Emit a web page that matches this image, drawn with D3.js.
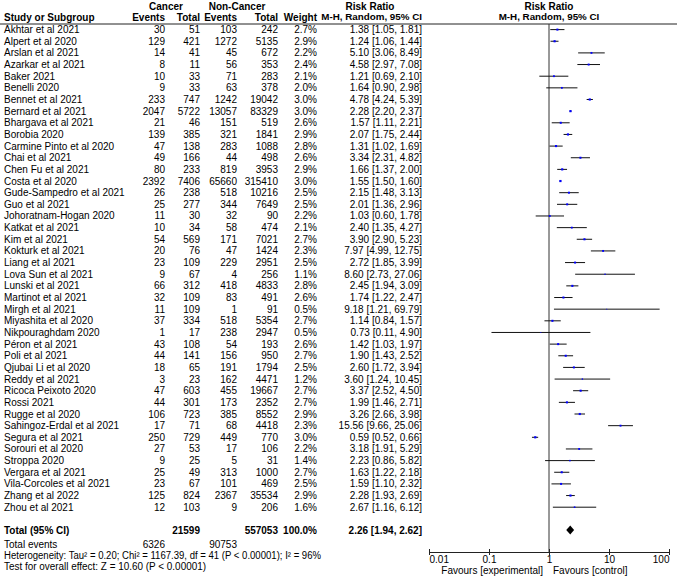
<!DOCTYPE html>
<html>
<head>
<meta charset="utf-8">
<script src="https://cdn.jsdelivr.net/npm/d3@7"></script>
<style>
  body { margin: 0; background: #fff; }
  text { font-family: "Liberation Sans", Arial, sans-serif; font-size: 10px; fill: #000; }
  .b { font-weight: bold; }
</style>
</head>
<body>
<div id="chart"></div>
<script>
// study data
var studies = ["Akhtar et al 2021","Alpert et al 2020","Arslan et al 2021","Azarkar et al 2021","Baker 2021",
  "Benelli 2020","Bennet et al 2021","Bernard et al 2021","Bhargava et al 2021","Borobia 2020",
  "Carmine Pinto et al 2020","Chai et al 2021","Chen Fu et al 2021","Costa et al 2020","Gude-Sampedro et al 2021",
  "Guo et al 2021","Johoratnam-Hogan 2020","Katkat et al 2021","Kim et al 2021","Kokturk et al 2021",
  "Liang et al 2021","Lova Sun et al 2021","Lunski et al 2021","Martinot et al 2021","Mirgh et al 2021",
  "Miyashita et al 2020","Nikpouraghdam 2020","Péron et al 2021","Poli et al 2021","Qjubai Li et al 2020",
  "Reddy et al 2021","Ricoca Peixoto 2020","Rossi 2021","Rugge et al 2020","Sahingoz-Erdal et al 2021",
  "Segura et al 2021","Sorouri et al 2020","Stroppa 2020","Vergara et al 2021","Vila-Corcoles et al 2021",
  "Zhang et al 2022","Zhou et al 2021"];
var cancerEvents = [30,129,14,8,10,9,233,2047,21,139,47,49,80,2392,26,25,11,10,54,20,23,9,66,32,11,37,1,43,44,18,3,47,44,106,17,250,27,9,25,23,125,12];
var cancerTotal = [51,421,41,11,33,33,747,5722,46,385,138,166,233,7406,238,277,30,34,569,76,109,67,312,109,109,334,17,108,141,65,23,603,301,723,71,729,53,25,49,67,824,103];
var nonEvents = [103,1272,45,56,71,63,1242,13057,151,321,283,44,819,65660,518,344,32,58,171,47,229,4,418,83,1,518,238,54,156,191,162,455,173,385,68,449,17,5,313,101,2367,9];
var nonTotal = [242,5135,672,353,283,378,19042,83329,519,1841,1088,498,3953,315410,10216,7649,90,474,7021,1424,2951,256,4833,491,91,5354,2947,193,950,1794,4471,19667,2352,8552,4418,770,106,31,1000,469,35534,206];
var weights = [2.7,2.9,2.2,2.4,2.1,2.0,3.0,3.0,2.6,2.9,2.8,2.6,2.9,3.0,2.5,2.5,2.2,2.1,2.7,2.3,2.5,1.1,2.8,2.6,0.5,2.7,0.5,2.6,2.7,2.5,1.2,2.7,2.7,2.9,2.3,3.0,2.2,1.4,2.7,2.5,2.9,1.6];
var rr = [1.38,1.24,5.10,4.58,1.21,1.64,4.78,2.28,1.57,2.07,1.31,3.34,1.66,1.55,2.15,2.01,1.03,2.40,3.90,7.97,2.72,8.60,2.45,1.74,9.18,1.14,0.73,1.42,1.90,2.60,3.60,3.37,1.99,3.26,15.56,0.59,3.18,2.23,1.63,1.59,2.28,2.67];
var lo = [1.05,1.06,3.06,2.97,0.69,0.90,4.24,2.20,1.11,1.75,1.02,2.31,1.37,1.50,1.48,1.36,0.60,1.35,2.90,4.99,1.85,2.73,1.94,1.22,1.21,0.84,0.11,1.03,1.43,1.72,1.24,2.52,1.46,2.66,9.66,0.52,1.91,0.86,1.22,1.10,1.93,1.16];
var hi = [1.81,1.44,8.49,7.08,2.10,2.98,5.39,2.37,2.21,2.44,1.69,4.82,2.00,1.60,3.13,2.96,1.78,4.27,5.23,12.75,3.99,27.06,3.09,2.47,69.79,1.57,4.90,1.97,2.52,3.94,10.45,4.50,2.71,3.98,25.06,0.66,5.29,5.82,2.18,2.32,2.69,6.12];

// pooled result
var total = {cancerTotal: 21599, nonTotal: 557053, weight: "100.0%", rr: 2.26, lo: 1.94, hi: 2.62,
  cancerEvents: 6326, nonEvents: 90753};
var axisTicks = [0.01, 0.1, 1, 10, 100];
var footnotes = ["Heterogeneity: Tau² = 0.20; Chi² = 1167.39, df = 41 (P < 0.00001); I² = 96%",
  "Test for overall effect: Z = 10.60 (P < 0.00001)"];

var width = 677, height = 582;
var svg = d3.select("#chart").append("svg")
  .attr("width", width)
  .attr("height", height);

// column right edges
var col = {ce: 165, ct: 200, ne: 237, nt: 278, w: 317, rr: 422};

var x = d3.scaleLog().domain([0.01, 100]).range([429, 669]);
var y = d3.scaleLinear().domain([0, studies.length - 1]).range([29.6, 507.2]);
var axisY = 552;

function txt(xp, yp, s, anchor, cls) {
  return svg.append("text")
    .attr("x", xp).attr("y", yp).attr("dy", "0.35em")
    .attr("text-anchor", anchor || "start")
    .attr("class", cls || null)
    .text(s);
}

// headers
txt(166, 6, "Cancer", "middle", "b");
txt(237, 6, "Non-Cancer", "middle", "b");
txt(370, 6, "Risk Ratio", "middle", "b");
txt(549, 6, "Risk Ratio", "middle", "b");
txt(4, 17, "Study or Subgroup", "start", "b");
txt(col.ce, 17, "Events", "end", "b");
txt(col.ct, 17, "Total", "end", "b");
txt(col.ne, 17, "Events", "end", "b");
txt(col.nt, 17, "Total", "end", "b");
txt(col.w, 17, "Weight", "end", "b");
txt(col.rr, 17, "M-H, Random, 95% CI", "end", "b").style("font-size", "9.8px");
txt(549, 17, "M-H, Random, 95% CI", "middle", "b").style("font-size", "9.8px");

svg.append("line")
  .attr("x1", 0).attr("x2", width)
  .attr("y1", 24).attr("y2", 24)
  .attr("stroke", "#222").attr("stroke-width", 1);

// null line
svg.append("line")
  .attr("x1", x(1)).attr("x2", x(1))
  .attr("y1", 24).attr("y2", axisY)
  .attr("stroke", "#333").attr("stroke-width", 1);

// table rows
var rows = svg.selectAll("g.row")
  .data(studies)
  .enter()
  .append("g")
  .attr("class", "row");

rows.append("text").attr("x", 4).attr("y", (d, i) => y(i)).attr("dy", "0.35em").text(d => d);
rows.append("text").attr("x", col.ce).attr("y", (d, i) => y(i)).attr("dy", "0.35em").attr("text-anchor", "end").text((d, i) => cancerEvents[i]);
rows.append("text").attr("x", col.ct).attr("y", (d, i) => y(i)).attr("dy", "0.35em").attr("text-anchor", "end").text((d, i) => cancerTotal[i]);
rows.append("text").attr("x", col.ne).attr("y", (d, i) => y(i)).attr("dy", "0.35em").attr("text-anchor", "end").text((d, i) => nonEvents[i]);
rows.append("text").attr("x", col.nt).attr("y", (d, i) => y(i)).attr("dy", "0.35em").attr("text-anchor", "end").text((d, i) => nonTotal[i]);
rows.append("text").attr("x", col.w).attr("y", (d, i) => y(i)).attr("dy", "0.35em").attr("text-anchor", "end").text((d, i) => weights[i].toFixed(1) + "%");
rows.append("text").attr("x", col.rr).attr("y", (d, i) => y(i)).attr("dy", "0.35em").attr("text-anchor", "end")
  .text((d, i) => rr[i].toFixed(2) + " [" + lo[i].toFixed(2) + ", " + hi[i].toFixed(2) + "]");

// CI lines and weight squares
rows.append("line")
  .attr("x1", (d, i) => x(lo[i])).attr("x2", (d, i) => x(hi[i]))
  .attr("y1", (d, i) => y(i)).attr("y2", (d, i) => y(i))
  .attr("stroke", "#111").attr("stroke-width", 1);
rows.append("rect")
  .attr("x", (d, i) => x(rr[i]) - 1.25 * Math.sqrt(weights[i]) / 2)
  .attr("y", (d, i) => y(i) - 1.25 * Math.sqrt(weights[i]) / 2)
  .attr("width", (d, i) => 1.25 * Math.sqrt(weights[i]))
  .attr("height", (d, i) => 1.25 * Math.sqrt(weights[i]))
  .attr("fill", "#0000ff");

// total row
var ty = 530;
txt(4, ty, "Total (95% CI)", "start", "b");
txt(col.ct, ty, total.cancerTotal, "end", "b");
txt(col.nt, ty, total.nonTotal, "end", "b");
txt(col.w, ty, total.weight, "end", "b");
txt(col.rr, ty, total.rr.toFixed(2) + " [" + total.lo.toFixed(2) + ", " + total.hi.toFixed(2) + "]", "end", "b");
svg.append("path")
  .attr("d", "M" + x(total.lo) + "," + ty + "L" + x(total.rr) + "," + (ty - 4.5) +
    "L" + x(total.hi) + "," + ty + "L" + x(total.rr) + "," + (ty + 4.5) + "Z")
  .attr("fill", "#000");

txt(4, 544, "Total events");
txt(col.ce, 544, total.cancerEvents, "end");
txt(col.ne, 544, total.nonEvents, "end");
txt(4, 555, footnotes[0]).attr("textLength", 317).attr("lengthAdjust", "spacingAndGlyphs");
txt(4, 566, footnotes[1]).attr("textLength", 202).attr("lengthAdjust", "spacingAndGlyphs");

// axis
var axis = d3.axisBottom(x)
  .tickValues(axisTicks)
  .tickFormat(d => String(d))
  .tickSizeInner(3)
  .tickSizeOuter(0);
var ag = svg.append("g")
  .attr("transform", `translate(0, ${axisY})`)
  .call(axis);
ag.select(".domain").attr("stroke", "#222");
ag.selectAll(".tick line").attr("y1", -3).attr("stroke", "#222");
ag.selectAll(".tick text")
  .attr("y", 7).attr("dy", "0.35em")
  .style("font-family", '"Liberation Sans", Arial, sans-serif')
  .style("font-size", "10px")
  .attr("fill", "#000")
  .attr("text-anchor", (d, i) => i === 0 ? "start" : (i === axisTicks.length - 1 ? "end" : "middle"));

txt(x(1) - 6, 570, "Favours [experimental]", "end");
txt(x(1) + 4, 570, "Favours [control]", "start");
</script>
</body>
</html>
